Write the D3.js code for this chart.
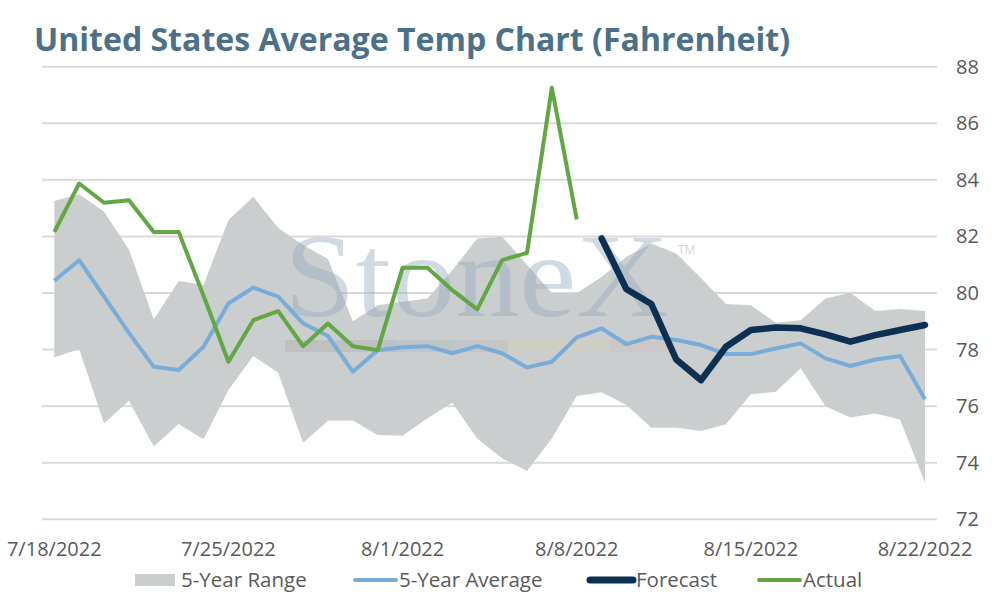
<!DOCTYPE html>
<html>
<head>
<meta charset="utf-8">
<script src="https://cdn.jsdelivr.net/npm/d3@7"></script>
<style>
	body { margin: 0; background: #ffffff; }
	svg { display: block; font-family: "Open Sans", "Lato", sans-serif; }
</style>
</head>
<body>
<div id="app"></div>
<script>
// days from 7/18/2022 to 8/22/2022
const startDay = new Date(2022, 6, 18);
const endDay = new Date(2022, 7, 22);
const days = d3.timeDay.range(startDay, d3.timeDay.offset(endDay, 1));

const tickDates = ["7/18/2022", "7/25/2022", "8/1/2022", "8/8/2022", "8/15/2022", "8/22/2022"];
const yTicks = [72, 74, 76, 78, 80, 82, 84, 86, 88];

const rangeHigh = [83.25, 83.49, 82.87, 81.54, 79.07, 80.42, 80.28, 82.58, 83.4, 82.3, 81.7, 81.2,
	79.0, 79.57, 79.69, 79.81, 80.8, 81.93, 81.99, 81.0, 80.0, 80.0, 80.57, 81.28,
	81.75, 81.4, 80.52, 79.61, 79.57, 78.95, 79.04, 79.81, 80.01, 79.36, 79.43, 79.36];
const rangeLow = [77.72, 78.02, 75.39, 76.19, 74.57, 75.37, 74.83, 76.57, 77.77, 77.18, 74.71, 75.48,
	75.49, 74.98, 74.95, 75.57, 76.12, 74.86, 74.16, 73.71, 74.86, 76.36, 76.49, 76.04,
	75.24, 75.24, 75.12, 75.36, 76.42, 76.51, 77.34, 76.0, 75.6, 75.74, 75.53, 73.29];
const average = [80.43, 81.16, 79.87, 78.59, 77.39, 77.28, 78.1, 79.63, 80.19, 79.87, 78.93, 78.48,
	77.22, 77.98, 78.08, 78.12, 77.87, 78.12, 77.87, 77.37, 77.57, 78.43, 78.75, 78.19,
	78.45, 78.34, 78.16, 77.84, 77.84, 78.04, 78.22, 77.69, 77.42, 77.65, 77.77, 76.24];
// actual runs 7/18 - 8/8, forecast 8/9 - 8/22
const actual = [82.16, 83.87, 83.19, 83.28, 82.16, 82.16, 79.9, 77.57, 79.04, 79.36, 78.12, 78.92,
	78.12, 77.98, 80.89, 80.89, 80.1, 79.42, 81.16, 81.42, 87.26, 82.6];
const forecast = [81.93, 80.13, 79.61, 77.65, 76.92, 78.1, 78.69, 78.78, 78.75, 78.54, 78.28, 78.51,
	78.69, 78.87];

const legendItems = [
	{ name: "5-Year Range", type: "area", color: "#cbcecf" },
	{ name: "5-Year Average", type: "line", color: "#79acd6" },
	{ name: "Forecast", type: "line", color: "#0c3052" },
	{ name: "Actual", type: "line", color: "#62a744" }
];

const width = 994, height = 600;

const svg = d3.select("#app").append("svg")
	.attr("width", width)
	.attr("height", height);

let x = d3.scaleTime()
	.domain([startDay, endDay])
	.range([54.3, 925]);

let y = d3.scaleLinear()
	.domain([72, 88])
	.range([519.3, 66.7]);

// Title
svg.append("text")
	.attr("x", 34)
	.attr("y", 51)
	.attr("fill", "#4b7089")
	.attr("font-size", 33)
	.attr("font-weight", 700)
	.attr("textLength", 756)
	.attr("lengthAdjust", "spacingAndGlyphs")
	.text("United States Average Temp Chart (Fahrenheit)");

// Gridlines
svg.append("g")
	.selectAll("line")
	.data(yTicks)
	.enter()
	.append("line")
		.attr("x1", 42)
		.attr("x2", 937)
		.attr("y1", d => y(d))
		.attr("y2", d => y(d))
		.attr("stroke", "#d9d9d9")
		.attr("stroke-width", 2);

// Right axis labels
svg.append("g")
	.selectAll("text")
	.data(yTicks)
	.enter()
	.append("text")
		.attr("x", 956)
		.attr("y", d => y(d) + 7)
		.attr("fill", "#595959")
		.attr("font-size", 20)
		.text(d => d);

// Date labels
const parseDate = d3.timeParse("%m/%d/%Y");
svg.append("g")
	.selectAll("text")
	.data(tickDates)
	.enter()
	.append("text")
		.attr("x", d => x(parseDate(d)))
		.attr("y", 556)
		.attr("text-anchor", "middle")
		.attr("fill", "#595959")
		.attr("font-size", 20)
		.text(d => d);

// 5 year range band
const bandData = days.map((d, i) => ({ date: d, lo: rangeLow[i], hi: rangeHigh[i] }));
svg.append("path")
	.datum(bandData)
	.attr("fill", "#cbcecf")
	.attr("d", d3.area()
		.x(d => x(d.date))
		.y0(d => y(d.lo))
		.y1(d => y(d.hi)));

// Watermark
const wm = svg.append("g").attr("pointer-events", "none");
wm.append("text")
	.attr("x", 284)
	.attr("y", 316)
	.attr("font-family", "'Liberation Serif', 'DejaVu Serif', serif")
	.attr("font-size", 118)
	.attr("textLength", 385)
	.attr("lengthAdjust", "spacingAndGlyphs")
	.attr("fill", "#9aaac2")
	.attr("fill-opacity", 0.45)
	.text("StoneX");
wm.append("text")
	.attr("x", 678)
	.attr("y", 254)
	.attr("font-size", 12)
	.attr("fill", "#9aaac2")
	.attr("fill-opacity", 0.5)
	.text("TM");
const wmBar = [
	{ x0: 285, x1: 395, c: "#a9adb0" },
	{ x0: 395, x1: 452, c: "#a9b8ba" },
	{ x0: 452, x1: 508, c: "#b4bcbc" },
	{ x0: 508, x1: 610, c: "#d2cfb5" },
	{ x0: 610, x1: 670, c: "#cdbdbd" }
];
wm.selectAll("rect")
	.data(wmBar)
	.enter()
	.append("rect")
		.attr("x", d => d.x0)
		.attr("y", 340)
		.attr("width", d => d.x1 - d.x0)
		.attr("height", 12)
		.attr("fill", d => d.c)
		.attr("fill-opacity", 0.4);

// Lines
const avgData = days.map((d, i) => ({ date: d, v: average[i] }));
const actData = actual.map((v, i) => ({ date: days[i], v: v }));
const fcData = forecast.map((v, i) => ({ date: days[actual.length + i], v: v }));

const line = d3.line()
	.x(d => x(d.date))
	.y(d => y(d.v));

svg.append("path")
	.datum(avgData)
	.attr("fill", "none")
	.attr("stroke", "#79acd6")
	.attr("stroke-width", 4)
	.attr("stroke-linejoin", "round")
	.attr("d", line);

svg.append("path")
	.datum(fcData)
	.attr("fill", "none")
	.attr("stroke", "#0c3052")
	.attr("stroke-width", 6.5)
	.attr("stroke-linejoin", "round")
	.attr("stroke-linecap", "round")
	.attr("d", line);

svg.append("path")
	.datum(actData)
	.attr("fill", "none")
	.attr("stroke", "#62a744")
	.attr("stroke-width", 4)
	.attr("stroke-linejoin", "round")
	.attr("d", line);

// Legend
const legendX = [135, 353, 588, 757];
const legend = svg.append("g");
legendItems.forEach(function(item, i) {
	let g = legend.append("g").attr("transform", "translate(" + legendX[i] + ",580)");
	if (item.type === "area") {
		g.append("rect")
			.attr("x", 0).attr("y", -6)
			.attr("width", 40).attr("height", 12)
			.attr("fill", item.color);
		g.append("text").attr("x", 46).attr("y", 7)
			.attr("fill", "#595959").attr("font-size", 20.5).text(item.name);
	} else {
		let w = item.name === "Forecast" ? 45 : 43;
		g.append("line")
			.attr("x1", 2).attr("x2", w)
			.attr("y1", 0).attr("y2", 0)
			.attr("stroke", item.color)
			.attr("stroke-width", item.name === "Forecast" ? 7 : 4)
			.attr("stroke-linecap", "round");
		g.append("text").attr("x", w + 3).attr("y", 7)
			.attr("fill", "#595959").attr("font-size", 20.5).text(item.name);
	}
});
</script>
</body>
</html>
